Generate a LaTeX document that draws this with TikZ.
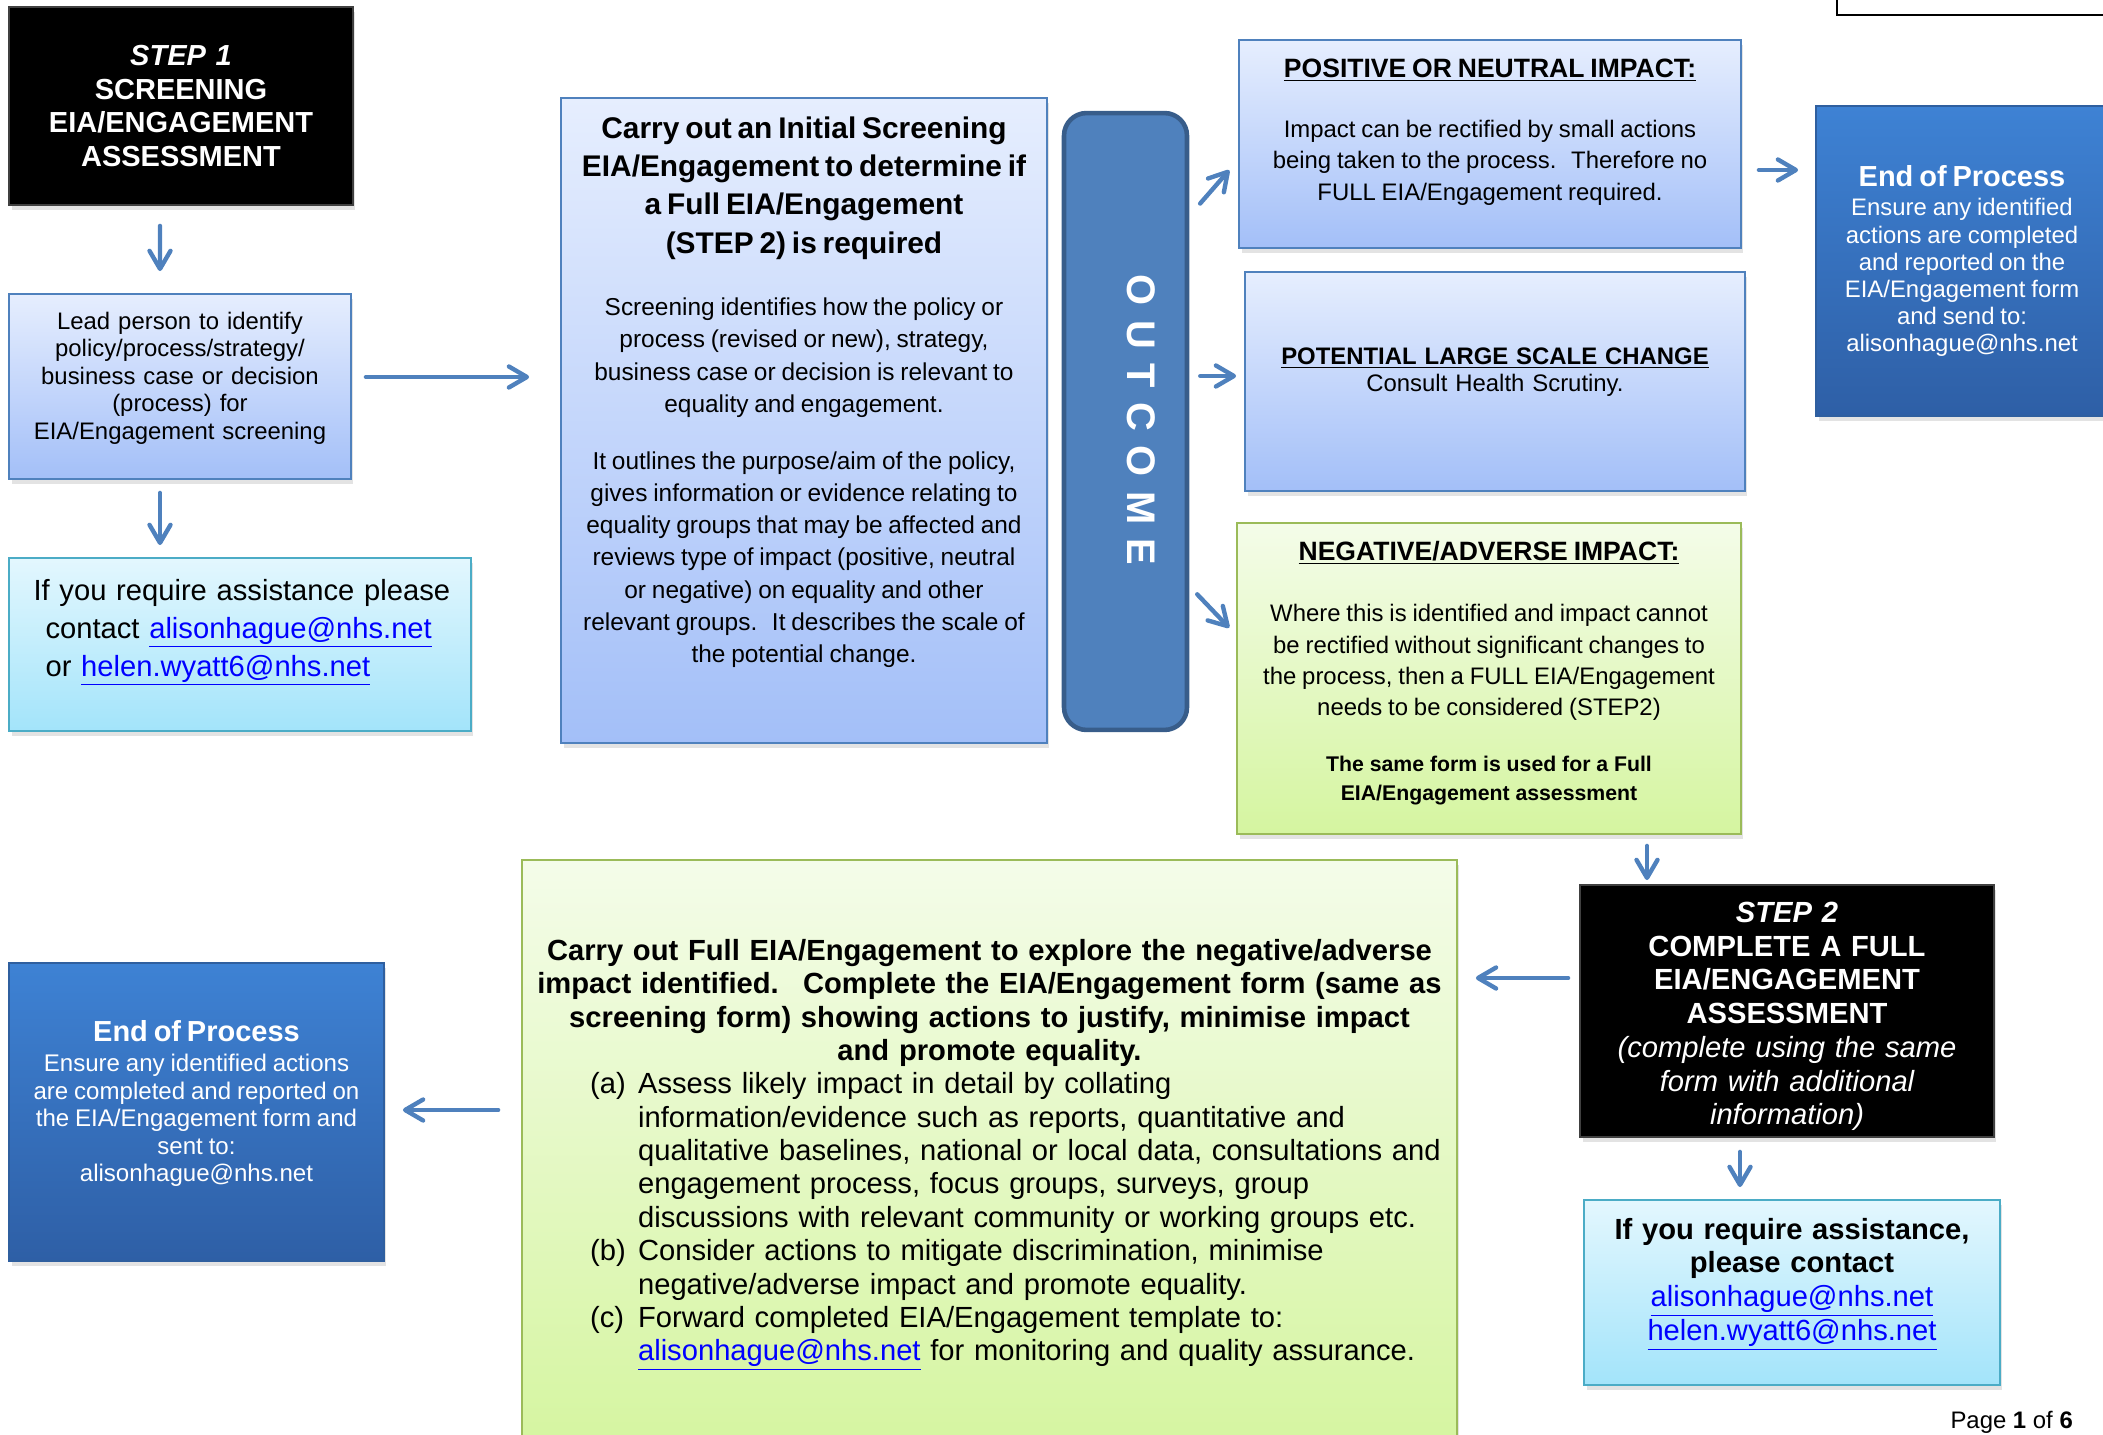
\documentclass[tikz,border=0pt]{standalone}
\usepackage{fontspec}
\setmainfont{Liberation Sans}
\usetikzlibrary{arrows.meta,shadows}

\definecolor{arrowblue}{HTML}{4F81BD}
\definecolor{boxline}{HTML}{4F81BD}
\definecolor{bluetop}{HTML}{E6EEFE}
\definecolor{bluebot}{HTML}{A3BFF8}
\definecolor{cyantop}{HTML}{E3F7FE}
\definecolor{cyanbot}{HTML}{A3E4FA}
\definecolor{cyanline}{HTML}{4BACC6}
\definecolor{greentop}{HTML}{F4FCE9}
\definecolor{greenbot}{HTML}{D5F5A0}
\definecolor{greenline}{HTML}{9BBB59}
\definecolor{navytop}{HTML}{3E82D4}
\definecolor{navybot}{HTML}{2E5FA6}
\definecolor{navyline}{HTML}{2F5F9F}
\definecolor{outfill}{HTML}{4F81BD}
\definecolor{outline}{HTML}{385D8A}
\definecolor{linkblue}{HTML}{0000FF}

\newcommand{\mail}[1]{\textcolor{linkblue}{\underline{#1}}}
% extra depth on the last line lifts the text, extra height on the first line lowers it
\newcommand{\pushup}[1]{\rule[-#1]{0pt}{#1}}
\newcommand{\pushdown}[1]{\rule{0pt}{#1}}
\newcommand{\lsp}{\hspace{0.29cm}}

\begin{document}
\begin{tikzpicture}[
        x=0.02cm, y=-0.02cm,
        box/.style={draw, line width=1.1pt, inner xsep=0.2cm, inner ysep=0pt, align=center,
            drop shadow={shadow xshift=0.05cm, shadow yshift=-0.1cm, opacity=0.22}},
        bluebox/.style={box, draw=boxline, top color=bluetop, bottom color=bluebot},
        cyanbox/.style={box, draw=cyanline, top color=cyantop, bottom color=cyanbot},
        greenbox/.style={box, draw=greenline, top color=greentop, bottom color=greenbot},
        navybox/.style={box, draw=navyline, top color=navytop, bottom color=navybot, text=white},
        blackbox/.style={box, draw=black!75, fill=black, text=white},
        outbox/.style={draw=outline, fill=outfill, line width=2.6pt, rounded corners=0.45cm},
        arr/.style={-{Straight Barb[length=0.36cm, width=0.42cm, round]}, line width=2.5pt,
            arrowblue, line cap=round}
    ]
        \useasboundingbox (0,0) rectangle (2103,1435);

        % Step 1 column
        \node[blackbox, minimum width=6.88cm, minimum height=3.96cm, text width=6.48cm,
            font={\fontsize{16.5}{19.3}\selectfont\bfseries}] (step1) at (181,106)
            {\textit{STEP 1}\\SCREENING\\EIA/ENGAGEMENT\\ASSESSMENT};
        \node[bluebox, minimum width=6.84cm, minimum height=3.7cm, text width=6.44cm,
            font={\fontsize{13.6}{15.7}\selectfont}] (lead) at (180,386.5)
            {Lead person to identify\\policy/process/strategy/\\business case or decision\\(process) for\\EIA/Engagement screening\pushup{0.43cm}};
        \node[cyanbox, minimum width=9.24cm, minimum height=3.46cm, inner xsep=0.32cm, text width=8.6cm,
            align=left, font={\fontsize{16.6}{21.6}\selectfont}] (help1) at (240,644.5)
            {\hspace*{0.17cm}If you require assistance please\\\hspace*{0.41cm}contact \mail{alisonhague@nhs.net}\\\hspace*{0.41cm}or \mail{helen.wyatt6@nhs.net}\pushup{0.67cm}};

        % Initial screening
        \node[bluebox, minimum width=9.72cm, minimum height=12.9cm, text width=9.32cm] (screen) at (804,420.5)
            {{\fontsize{17}{21.8}\selectfont\bfseries Carry out an Initial Screening\\EIA/Engagement to determine if\\a Full EIA/Engagement\\(STEP 2) is required\par}
            \vspace{0.61cm}
            {\fontsize{13.9}{18.3}\selectfont Screening identifies how the policy or\\process (revised or new), strategy,\\business case or decision is relevant to\\equality and engagement.\par}
            \vspace{0.5cm}
            {\fontsize{13.9}{18.3}\selectfont It outlines the purpose/aim of the policy,\\gives information or evidence relating to\\equality groups that may be affected and\\reviews type of impact (positive, neutral\\or negative) on equality and other\\relevant groups.~ It describes the scale of\\the potential change.\pushup{1.24cm}\par}};

        % Outcome
        \node[outbox, minimum width=2.46cm, minimum height=12.34cm] (outcome) at (1125.5,421.5) {};
        \node[text=white, rotate=-90, font={\fontsize{22.7}{26}\selectfont\bfseries}] (outword) at (1141,420)
            {O\lsp U\lsp T\lsp C\lsp O\lsp M\lsp E};

        % Outcome boxes
        \node[bluebox, minimum width=10.04cm, minimum height=4.16cm, text width=9.64cm] (positive) at (1490,144)
            {{\fontsize{15.1}{18}\selectfont\bfseries\underline{POSITIVE OR NEUTRAL IMPACT:}\par}
            \vspace{0.55cm}
            {\fontsize{13.6}{18.1}\selectfont Impact can be rectified by small actions\\being taken to the process.~ Therefore no\\FULL EIA/Engagement required.\pushup{0.56cm}\par}};
        \node[bluebox, minimum width=10cm, minimum height=4.38cm, text width=9.6cm,
            font={\fontsize{13.6}{15.3}\selectfont}] (potential) at (1495,381.5)
            {\textbf{\underline{POTENTIAL LARGE SCALE CHANGE}}\\Consult Health Scrutiny.\pushup{0.48cm}};
        \node[greenbox, minimum width=10.08cm, minimum height=6.22cm, text width=9.68cm] (negative) at (1489,678.5)
            {{\fontsize{15.1}{18}\selectfont\bfseries\underline{NEGATIVE/ADVERSE IMPACT:}\par}
            \vspace{0.6cm}
            {\fontsize{13.6}{17.8}\selectfont Where this is identified and impact cannot\\be rectified without significant changes to\\the process, then a FULL EIA/Engagement\\needs to be considered (STEP2)\par}
            \vspace{0.52cm}
            {\fontsize{12.1}{16.7}\selectfont\bfseries The same form is used for a Full\\EIA/Engagement assessment\pushup{0.3cm}\par}};
        \node[navybox, minimum width=5.84cm, minimum height=6.2cm, text width=5.44cm] (endright) at (1962,261)
            {{\fontsize{16.5}{19}\selectfont\bfseries End of Process\par}
            \vspace{0.05cm}
            {\fontsize{13.6}{15.5}\selectfont Ensure any identified\\actions are completed\\and reported on the\\EIA/Engagement form\\and send to:\\alisonhague@nhs.net\par}};

        % Step 2 row
        \node[blackbox, minimum width=8.28cm, minimum height=5.04cm, text width=7.88cm,
            font={\fontsize{16.6}{19.2}\selectfont\bfseries}] (step2) at (1787,1011)
            {\pushdown{0.63cm}\textit{STEP 2}\\COMPLETE A FULL\\EIA/ENGAGEMENT\\ASSESSMENT\\{\mdseries\itshape (complete using the same\\form with additional\\information)}};
        \node[cyanbox, minimum width=8.32cm, minimum height=3.7cm, text width=7.92cm,
            font={\fontsize{16.6}{19.2}\selectfont}] (help2) at (1792,1292.5)
            {\textbf{If you require assistance,}\\\textbf{please contact}\\\mail{alisonhague@nhs.net}\\\mail{helen.wyatt6@nhs.net}\pushup{0.53cm}};
        \node[greenbox, minimum width=18.7cm, minimum height=11.8cm, text width=18.3cm,
            font={\fontsize{16.6}{19}\selectfont}] (full) at (989.5,1155)
            {{\bfseries Carry out Full EIA/Engagement to explore the negative/adverse\\impact identified.~ Complete the EIA/Engagement form (same as\\screening form) showing actions to justify, minimise impact\\and promote equality.\par}
            \makebox[18.3cm][l]{\hspace*{1.16cm}\begin{tabular}[t]{@{}p{0.96cm}@{}l@{}}
                (a) & Assess likely impact in detail by collating\\
                    & information/evidence such as reports, quantitative and\\
                    & qualitative baselines, national or local data, consultations and\\
                    & engagement process, focus groups, surveys, group\\
                    & discussions with relevant community or working groups etc.\\
                (b) & Consider actions to mitigate discrimination, minimise\\
                    & negative/adverse impact and promote equality.\\
                (c) & Forward completed EIA/Engagement template to:\\
                    & \mail{alisonhague@nhs.net} for monitoring and quality assurance.
            \end{tabular}}\par};
        \node[navybox, minimum width=7.5cm, minimum height=5.96cm, text width=7.1cm] (endleft) at (196.5,1112)
            {{\fontsize{16.5}{19}\selectfont\bfseries End of Process\par}
            \vspace{0.05cm}
            {\fontsize{13.7}{15.6}\selectfont Ensure any identified actions\\are completed and reported on\\the EIA/Engagement form and\\sent to:\\alisonhague@nhs.net\pushup{0.43cm}\par}};

        % Page furniture
        \draw[line width=0.9pt] (1837,-5) rectangle (2115,15);
        \node[anchor=east, font={\fontsize{13.6}{16}\selectfont}] (page) at (2079,1422)
            {Page \textbf{1} of \textbf{6}};

        % Arrows
        \draw[arr, shorten <=0.4cm, shorten >=0.44cm] ([xshift=-0.42cm]step1.south) -- ([xshift=-0.4cm]lead.north);
        \draw[arr, shorten <=0.26cm, shorten >=0.24cm] ([xshift=-0.4cm]lead.south) -- ([xshift=-0.4cm]lead.south |- help1.north);
        \draw[arr, shorten <=0.28cm, shorten >=0.62cm] ([yshift=0.19cm]lead.east) -- ([yshift=0.19cm]lead.east -| screen.west);
        \draw[arr, shorten <=0.33cm, shorten >=0.27cm] (outcome.east |- 0,216) -- (positive.west |- 0,160);
        \draw[arr, shorten <=0.22cm, shorten >=0.16cm] (outcome.east |- 0,376) -- (potential.west |- 0,376);
        \draw[arr, shorten <=0.23cm, shorten >=0.2cm] (outcome.east |- 0,586) -- (negative.west |- 0,635);
        \draw[arr, shorten <=0.34cm, shorten >=0.34cm] (positive.east |- 0,170) -- (endright.west |- 0,170);
        \draw[arr, shorten <=0.22cm, shorten >=0.08cm] (negative.south -| 1647,0) -- (step2.north -| 1647,0);
        \draw[arr, shorten <=0.22cm, shorten >=0.36cm] (step2.west |- 0,978) -- (full.east |- 0,978);
        \draw[arr, shorten <=0.46cm, shorten >=0.36cm] (full.west |- 0,1110) -- (endleft.east |- 0,1110);
        \draw[arr, shorten <=0.28cm, shorten >=0.24cm] (step2.south -| 1740,0) -- (help2.north -| 1740,0);
    \end{tikzpicture}
\end{document}
